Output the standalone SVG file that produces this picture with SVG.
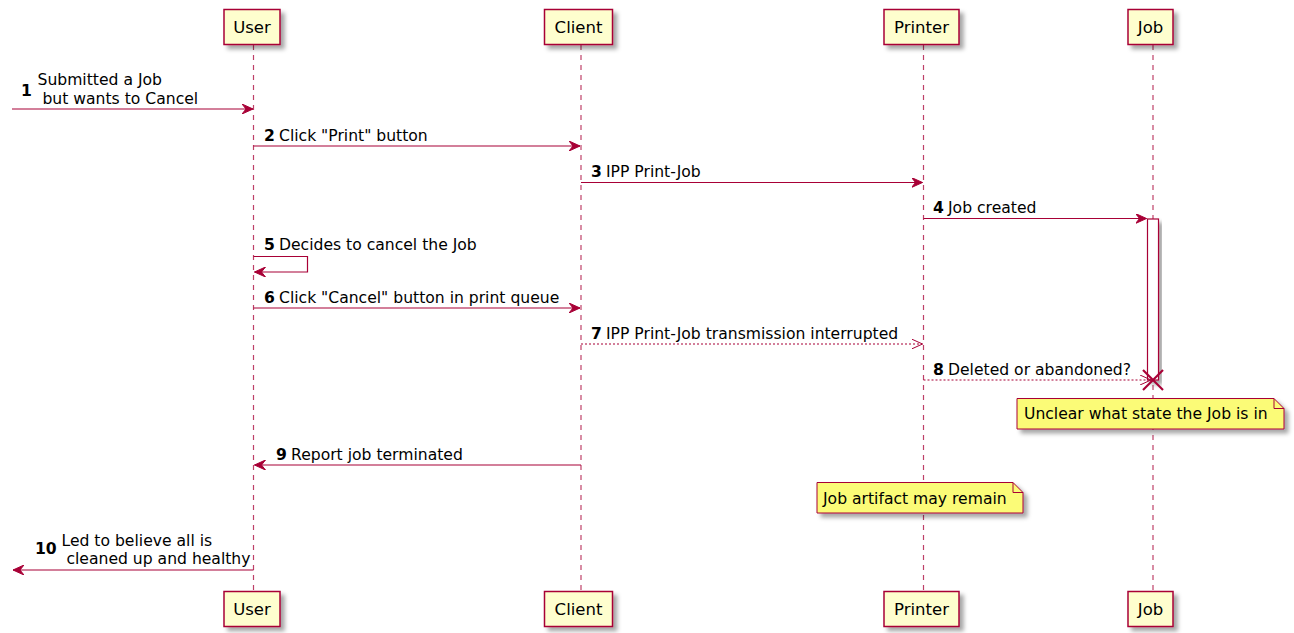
<svg xmlns="http://www.w3.org/2000/svg" width="1294" height="633" viewBox="0 0 1294 633">
<defs>
<filter id="sh" x="-20%" y="-20%" width="150%" height="160%">
<feDropShadow dx="4" dy="4" stdDeviation="2" flood-color="#000" flood-opacity="0.35"/>
</filter>
<marker id="af" viewBox="0 0 12 10" markerWidth="12" markerHeight="10" refX="11" refY="5" orient="auto" markerUnits="userSpaceOnUse">
<polygon points="0,0 11,5 0,10 4,5" fill="#A80036" stroke="#A80036" stroke-width="1"/>
</marker>
<marker id="ao" viewBox="0 0 12 10" markerWidth="12" markerHeight="10" refX="11" refY="5" orient="auto" markerUnits="userSpaceOnUse">
<polyline points="0,0 11,5 0,10" fill="none" stroke="#A80036" stroke-width="1"/>
</marker>
<style>
.part rect{fill:#FEFECE;stroke:#A80036;stroke-width:1.5;filter:url(#sh)}
.part text{font-family:"DejaVu Sans","Liberation Sans",sans-serif;font-size:16.5px;fill:#000;text-anchor:middle}
.life{stroke:#A80036;stroke-opacity:0.75;stroke-width:1.2;stroke-dasharray:5,5;fill:none}
.msg{stroke:#A80036;stroke-width:1.2;fill:none}
.dash{stroke-dasharray:2,2}
.lbl{font-family:"DejaVu Sans","Liberation Sans",sans-serif;font-size:15.6px;fill:#000}
.num{font-weight:bold}
.note path{fill:#FBFB77;stroke:#A80036;stroke-width:1;filter:url(#sh)}
.note .fold{fill:none;filter:none}
</style>
</defs>

<g id="lifelines">
<line class="life" x1="253.5" y1="45" x2="253.5" y2="591"/>
<line class="life" x1="581" y1="45" x2="581" y2="591"/>
<line class="life" x1="923.5" y1="45" x2="923.5" y2="591"/>
<line class="life" x1="1153" y1="45" x2="1153" y2="591"/>
</g>

<g id="User" class="part">
<rect x="224" y="9.5" width="56" height="35"/>
<text x="252" y="33">User</text>
<rect x="224" y="591.5" width="56" height="35"/>
<text x="252" y="615">User</text>
</g>
<g id="Client" class="part">
<rect x="544.5" y="9.5" width="68" height="35"/>
<text x="578.5" y="33">Client</text>
<rect x="544.5" y="591.5" width="68" height="35"/>
<text x="578.5" y="615">Client</text>
</g>
<g id="Printer" class="part">
<rect x="884" y="9.5" width="75" height="35"/>
<text x="921.5" y="33">Printer</text>
<rect x="884" y="591.5" width="75" height="35"/>
<text x="921.5" y="615">Printer</text>
</g>
<g id="Job" class="part">
<rect x="1128" y="9.5" width="45" height="35"/>
<text x="1150.5" y="33">Job</text>
<rect x="1128" y="591.5" width="45" height="35"/>
<text x="1150.5" y="615">Job</text>
</g>

<g id="activation">
<rect x="1147.5" y="219" width="11" height="161" fill="#FFFFFF" stroke="#A80036" stroke-width="1.2" filter="url(#sh)"/>
</g>

<g id="connectors">
<line class="msg" x1="12" y1="109" x2="253" y2="109" marker-end="url(#af)"/>
<line class="msg" x1="253.5" y1="146" x2="580" y2="146" marker-end="url(#af)"/>
<line class="msg" x1="581" y1="182.5" x2="922.5" y2="182.5" marker-end="url(#af)"/>
<line class="msg" x1="923.5" y1="218.5" x2="1146.5" y2="218.5" marker-end="url(#af)"/>
<polyline class="msg" points="253.5,256.5 307.5,256.5 307.5,272 254.5,272" marker-end="url(#af)"/>
<line class="msg" x1="253.5" y1="308" x2="580" y2="308" marker-end="url(#af)"/>
<line class="msg dash" x1="581" y1="344" x2="922.5" y2="344" marker-end="url(#ao)"/>
<line class="msg dash" x1="923.5" y1="380" x2="1151" y2="380" marker-end="url(#ao)"/>
<line class="msg" x1="581" y1="465" x2="254.5" y2="465" marker-end="url(#af)"/>
<line class="msg" x1="253.5" y1="570" x2="13" y2="570" marker-end="url(#af)"/>
<g stroke="#A80036" stroke-width="2.2">
<line x1="1143" y1="370" x2="1163" y2="390"/>
<line x1="1143" y1="390" x2="1163" y2="370"/>
</g>
</g>

<g id="labels" class="lbl">
<text x="21" y="96" class="num">1</text>
<text x="37.5" y="85">Submitted a Job</text>
<text x="37.5" y="104" xml:space="preserve"> but wants to Cancel</text>
<text x="264" y="141" class="num">2</text>
<text x="279" y="141">Click "Print" button</text>
<text x="591" y="177" class="num">3</text>
<text x="606" y="177">IPP Print-Job</text>
<text x="933" y="213" class="num">4</text>
<text x="948" y="213">Job created</text>
<text x="264" y="250" class="num">5</text>
<text x="279" y="250">Decides to cancel the Job</text>
<text x="264" y="302.5" class="num">6</text>
<text x="279" y="302.5">Click "Cancel" button in print queue</text>
<text x="591" y="338.5" class="num">7</text>
<text x="606" y="338.5">IPP Print-Job transmission interrupted</text>
<text x="933" y="374.5" class="num">8</text>
<text x="948" y="374.5">Deleted or abandoned?</text>
<text x="276" y="459.5" class="num">9</text>
<text x="291" y="459.5">Report job terminated</text>
<text x="35" y="554" class="num">10</text>
<text x="61.5" y="545.5">Led to believe all is</text>
<text x="61.5" y="564" xml:space="preserve"> cleaned up and healthy</text>
</g>

<g id="note1" class="note">
<path d="M1017,398.5 H1274 L1284,408.5 V429 H1017 Z"/>
<path class="fold" d="M1274,398.5 V408.5 H1284"/>
<text class="lbl" x="1024" y="419">Unclear what state the Job is in</text>
</g>
<g id="note2" class="note">
<path d="M817,482.5 H1013 L1023,492.5 V513 H817 Z"/>
<path class="fold" d="M1013,482.5 V492.5 H1023"/>
<text class="lbl" x="823" y="503.5">Job artifact may remain</text>
</g>
</svg>
